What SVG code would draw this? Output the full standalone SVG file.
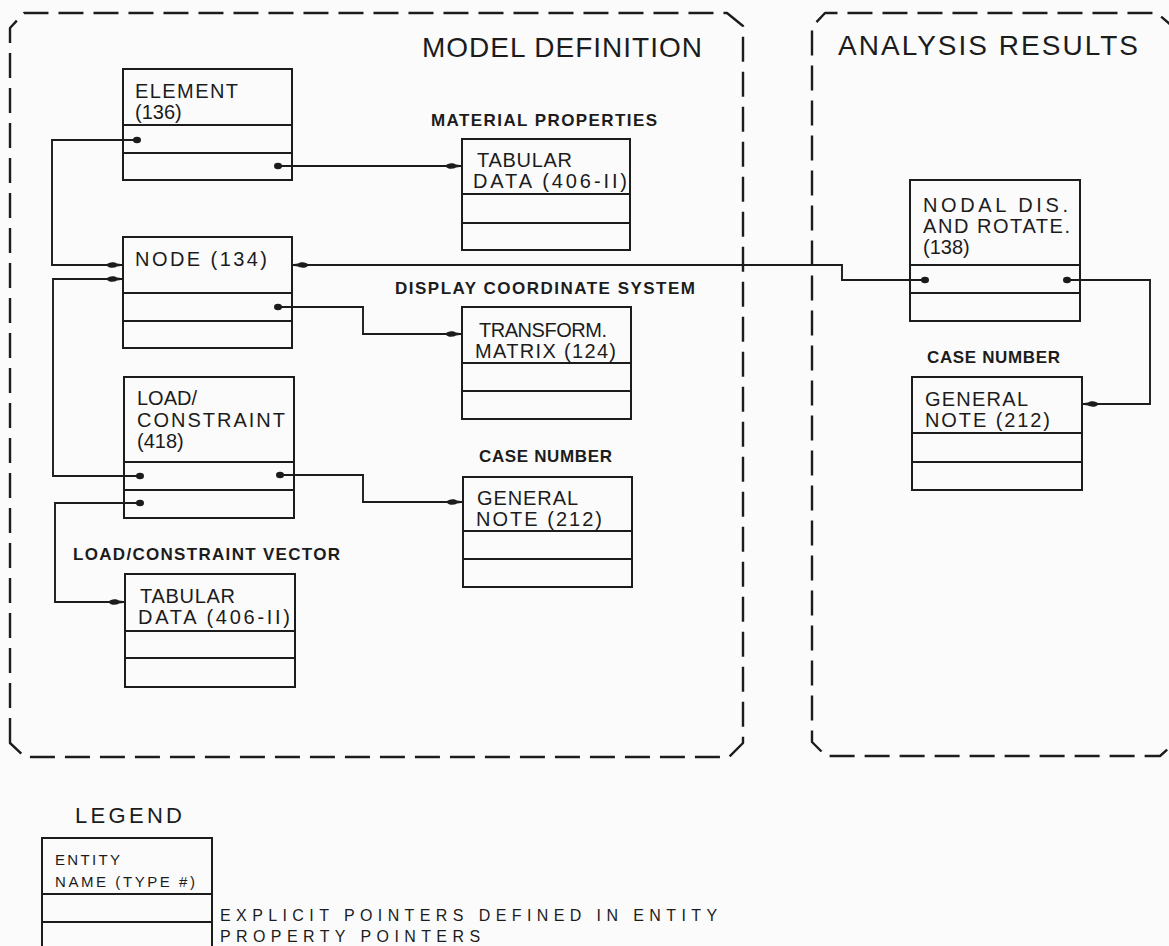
<svg xmlns="http://www.w3.org/2000/svg" width="1169" height="946" viewBox="0 0 1169 946">
  <style>
    .bg { fill: #fbfbfb; }
    .frame { fill: none; stroke: #1c1c1c; stroke-width: 2.4; stroke-dasharray: 25 10; stroke-linejoin: round; }
    .box { fill: none; stroke: #1c1c1c; stroke-width: 2; }
    .div { stroke: #1c1c1c; stroke-width: 2; }
    .wire { fill: none; stroke: #1c1c1c; stroke-width: 1.9; marker-start: url(#ptr); marker-end: url(#hit); }
    text { font-family: "Liberation Sans", Arial, sans-serif; fill: #1c1c1c; }
    .title { font-size: 28px; }
    .name { font-size: 20px; }
    .tag { font-size: 17px; font-weight: bold; }
    .leg { font-size: 22px; }
    .small { font-size: 15px; }
    .note { font-size: 16px; letter-spacing: 5.4px; }
  </style>
  <defs>
    <!-- pointer origin: filled dot inside the entity field -->
    <marker id="ptr" markerUnits="userSpaceOnUse" viewBox="-5 -4 10 8" refX="0" refY="0" markerWidth="10" markerHeight="8" orient="auto">
      <ellipse cx="0" cy="0" rx="4" ry="3.3" fill="#1c1c1c"/>
    </marker>
    <!-- pointer target: spindle-shaped head against the entity edge -->
    <marker id="hit" markerUnits="userSpaceOnUse" viewBox="0 0 17 8" refX="17" refY="4" markerWidth="17" markerHeight="8" orient="auto">
      <path d="M0,4 C3,0.6 8,0.6 11,2.4 L17,3.2 L17,4.8 L11,5.6 C8,7.4 3,7.4 0,4 Z" fill="#1c1c1c"/>
    </marker>
  </defs>

  <rect class="bg" x="0" y="0" width="1169" height="946"/>

  <!-- region frames -->
  <g id="region-model">
    <path class="frame" d="M10,743 V28 L24,13 H727 L743,26 V743 L729,757 H25 Z"/>
    <text class="title" x="422" y="57" textLength="280" lengthAdjust="spacing">MODEL DEFINITION</text>
  </g>
  <g id="region-results">
    <path class="frame" d="M1180,33 L1157,13 H825 L812,27 V742 L826,756 H1160 L1178,740"/>
    <text class="title" x="838" y="55" textLength="300" lengthAdjust="spacing">ANALYSIS RESULTS</text>
  </g>

  <!-- connectors -->
  <g id="connectors">
    <path class="wire" d="M137,140 H52 V265 H123"/>
    <path class="wire" d="M278,166 H462"/>
    <path class="wire" d="M925,280 H842 V265 H292"/>
    <path class="wire" d="M278,307 H363 V334 H462"/>
    <path class="wire" d="M140,476 H53 V279 H123"/>
    <path class="wire" d="M280,475 H363 V502 H463"/>
    <path class="wire" d="M140,503 H55 V602 H125"/>
    <path class="wire" d="M1067,280 H1150 V404 H1082"/>
  </g>

  <!-- entities -->
  <g id="element-136">
    <rect class="box" x="123" y="69" width="169" height="111"/>
    <line class="div" x1="123" y1="125" x2="292" y2="125"/>
    <line class="div" x1="123" y1="153" x2="292" y2="153"/>
    <text class="name" x="135" y="98" textLength="103" lengthAdjust="spacing">ELEMENT</text>
    <text class="name" x="135" y="119">(136)</text>
  </g>

  <g id="node-134">
    <rect class="box" x="123" y="237" width="169" height="111"/>
    <line class="div" x1="123" y1="293" x2="292" y2="293"/>
    <line class="div" x1="123" y1="321" x2="292" y2="321"/>
    <text class="name" x="135" y="266" textLength="132" lengthAdjust="spacing">NODE (134)</text>
  </g>

  <g id="load-constraint-418">
    <rect class="box" x="124" y="377" width="170" height="141"/>
    <line class="div" x1="124" y1="462" x2="294" y2="462"/>
    <line class="div" x1="124" y1="490" x2="294" y2="490"/>
    <text class="name" x="137" y="405">LOAD/</text>
    <text class="name" x="137" y="427" textLength="148" lengthAdjust="spacing">CONSTRAINT</text>
    <text class="name" x="137" y="448">(418)</text>
  </g>

  <g id="lc-vector-406">
    <text class="tag" x="73" y="560" textLength="267" lengthAdjust="spacing">LOAD/CONSTRAINT VECTOR</text>
    <rect class="box" x="125" y="574" width="170" height="113"/>
    <line class="div" x1="125" y1="631" x2="295" y2="631"/>
    <line class="div" x1="125" y1="658" x2="295" y2="658"/>
    <text class="name" x="140" y="603" textLength="95" lengthAdjust="spacing">TABULAR</text>
    <text class="name" x="138" y="624" textLength="152" lengthAdjust="spacing">DATA (406-II)</text>
  </g>

  <g id="material-406">
    <text class="tag" x="431" y="126" textLength="226" lengthAdjust="spacing">MATERIAL PROPERTIES</text>
    <rect class="box" x="462" y="139" width="168" height="111"/>
    <line class="div" x1="462" y1="194" x2="630" y2="194"/>
    <line class="div" x1="462" y1="223" x2="630" y2="223"/>
    <text class="name" x="477" y="167" textLength="95" lengthAdjust="spacing">TABULAR</text>
    <text class="name" x="473" y="188" textLength="154" lengthAdjust="spacing">DATA (406-II)</text>
  </g>

  <g id="transform-124">
    <text class="tag" x="395" y="294" textLength="300" lengthAdjust="spacing">DISPLAY COORDINATE SYSTEM</text>
    <rect class="box" x="462" y="307" width="169" height="112"/>
    <line class="div" x1="462" y1="363" x2="631" y2="363"/>
    <line class="div" x1="462" y1="391" x2="631" y2="391"/>
    <text class="name" x="479" y="337" textLength="128" lengthAdjust="spacing">TRANSFORM.</text>
    <text class="name" x="475" y="358" textLength="141" lengthAdjust="spacing">MATRIX (124)</text>
  </g>

  <g id="case-note-212">
    <text class="tag" x="479" y="462" textLength="133" lengthAdjust="spacing">CASE NUMBER</text>
    <rect class="box" x="463" y="477" width="169" height="110"/>
    <line class="div" x1="463" y1="531" x2="632" y2="531"/>
    <line class="div" x1="463" y1="559" x2="632" y2="559"/>
    <text class="name" x="477" y="505" textLength="101" lengthAdjust="spacing">GENERAL</text>
    <text class="name" x="476" y="526" textLength="126" lengthAdjust="spacing">NOTE (212)</text>
  </g>

  <g id="nodal-138">
    <rect class="box" x="910" y="180" width="170" height="141"/>
    <line class="div" x1="910" y1="265" x2="1080" y2="265"/>
    <line class="div" x1="910" y1="293" x2="1080" y2="293"/>
    <text class="name" x="923" y="212" textLength="145" lengthAdjust="spacing">NODAL DIS.</text>
    <text class="name" x="923" y="233" textLength="147" lengthAdjust="spacing">AND ROTATE.</text>
    <text class="name" x="923" y="254">(138)</text>
  </g>

  <g id="result-note-212">
    <text class="tag" x="927" y="363" textLength="133" lengthAdjust="spacing">CASE NUMBER</text>
    <rect class="box" x="912" y="377" width="170" height="113"/>
    <line class="div" x1="912" y1="433" x2="1082" y2="433"/>
    <line class="div" x1="912" y1="462" x2="1082" y2="462"/>
    <text class="name" x="925" y="406" textLength="103" lengthAdjust="spacing">GENERAL</text>
    <text class="name" x="925" y="427" textLength="125" lengthAdjust="spacing">NOTE (212)</text>
  </g>

  <!-- legend -->
  <g id="legend">
    <text class="leg" x="75" y="823" textLength="107" lengthAdjust="spacing">LEGEND</text>
    <path class="box" d="M42,946 V838 H212 V946"/>
    <line class="div" x1="42" y1="894" x2="212" y2="894"/>
    <line class="div" x1="42" y1="922" x2="212" y2="922"/>
    <text class="small" x="55" y="865" textLength="65" lengthAdjust="spacing">ENTITY</text>
    <text class="small" x="55" y="887" textLength="140" lengthAdjust="spacing">NAME (TYPE #)</text>
    <text class="note" x="220" y="921">EXPLICIT POINTERS DEFINED IN ENTITY</text>
    <text class="note" x="220" y="942">PROPERTY POINTERS</text>
  </g>
</svg>
